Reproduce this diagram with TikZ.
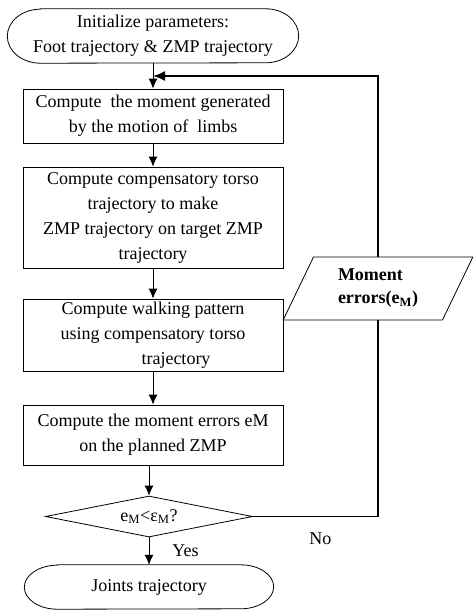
\documentclass[tikz,border=0pt]{standalone}
\usepackage{fontspec}
\setmainfont{Liberation Serif}
\usetikzlibrary{shapes.geometric,arrows.meta}

\begin{document}
\begin{tikzpicture}[x=1pt,y=-1pt,
  every node/.style={font=\fontsize{18}{25}\selectfont,inner sep=2pt},
  procbox/.style={draw,line width=0.8pt,minimum width=260pt,inner sep=0pt,align=center},
  termbox/.style={inner sep=0pt,align=center},
  decbox/.style={draw,diamond,aspect=5,line width=0.8pt,minimum width=207pt,minimum height=41pt,inner sep=0pt},
  iobox/.style={draw,trapezium,trapezium left angle=64,trapezium right angle=116,trapezium stretches=true,
    fill=white,line width=0.8pt,minimum width=190pt,minimum height=63pt,inner sep=0pt,align=left,
    font=\fontsize{18}{23}\selectfont\bfseries},
  flow/.style={-{Latex[length=10pt,width=9pt]},line width=0.8pt},
  back/.style={-{Latex[length=12pt,width=10pt]},line width=1.8pt}]
  \useasboundingbox (0,0) rectangle (476,610);

  % blocks of the main column
  \node[termbox,minimum width=291pt,minimum height=54pt] (init) at (153,36) {Initialize parameters:\\Foot trajectory \& ZMP trajectory};
  \node[procbox,minimum height=54pt] (moment) at (153,116) {Compute\ \ the moment generated\\by the motion of\ \ limbs};
  \node[procbox,minimum height=101pt] (torso) at (153,217.5) {Compute compensatory torso\\trajectory to make\\ZMP trajectory on target ZMP\\trajectory};
  \node[procbox,minimum height=72pt] (walk) at (153,335) {Compute walking pattern\\using compensatory torso\\\hspace*{46pt}trajectory};
  \node[procbox,minimum height=60pt] (err) at (153,435) {Compute the moment errors eM\\on the planned ZMP};
  \node[decbox] (dec) at (149,516.5) {e\textsubscript{M}<ε\textsubscript{M}?};
  \node[termbox,minimum width=249pt,minimum height=44pt] (joints) at (149,587) {Joints trajectory};

  % rounded ends of the terminals
  \draw[line width=0.8pt] ([xshift=33pt]init.north west) -- ([xshift=-33pt]init.north east)
    arc[start angle=90,end angle=-90,x radius=33pt,y radius=27pt] -- ([xshift=33pt]init.south west)
    arc[start angle=270,end angle=90,x radius=33pt,y radius=27pt] -- cycle;
  \draw[line width=0.8pt] ([xshift=33pt]joints.north west) -- ([xshift=-33pt]joints.north east)
    arc[start angle=90,end angle=-90,x radius=33pt,y radius=22pt] -- ([xshift=33pt]joints.south west)
    arc[start angle=270,end angle=90,x radius=33pt,y radius=22pt] -- cycle;

  \draw[flow] (init) -- (moment);
  \draw[flow] (moment) -- (torso);
  \draw[flow] (torso) -- (walk);
  \draw[flow] (walk) -- (err);
  \draw[flow] (err.south -| dec.north) -- (dec.north);
  \draw[flow] (dec) -- node[midway,right=21pt] (yes) {Yes} (joints);

  % loop back when the error is too large
  \coordinate (corner) at (378,76);
  \coordinate (join) at (153,76);
  \draw[back] (dec.east) -| node[pos=0.27,below=13pt] (no) {No} (corner) -- (join);
  \node[iobox] (errs) at (378,288.5) {Moment\\errors(e\textsubscript{M})};
\end{tikzpicture}
\end{document}
